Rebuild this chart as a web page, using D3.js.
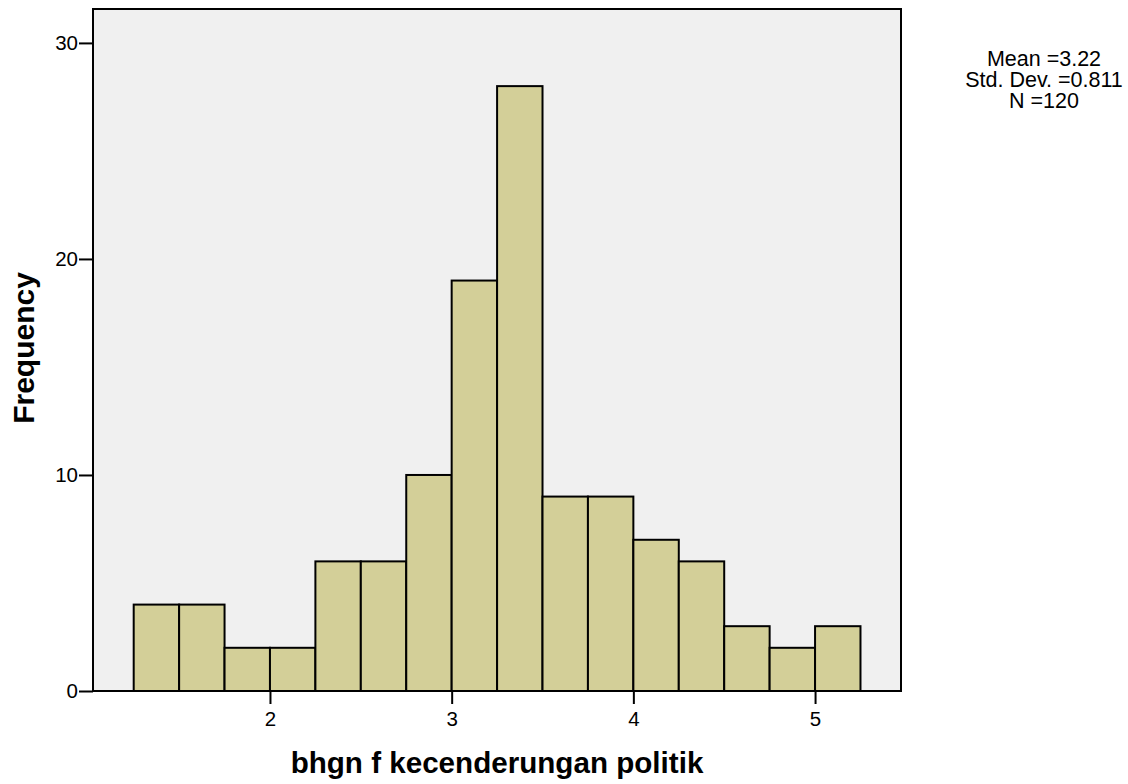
<!DOCTYPE html>
<html>
<head>
<meta charset="utf-8">
<script src="https://d3js.org/d3.v7.min.js"></script>
<style>
  body { margin: 0; background: #fff; font-family: "Liberation Sans", Arial, sans-serif; }
  .axis text { font-size: 20.5px; fill: #000; font-family: "Liberation Sans", Arial, sans-serif; }
  .axis path, .axis line { stroke: #000; stroke-width: 2px; }
</style>
</head>
<body>
<svg id="chart" width="1128" height="784"></svg>
<script>
// histogram bins (lower edge) and counts
const binStart = [1.25, 1.5, 1.75, 2.0, 2.25, 2.5, 2.75, 3.0, 3.25, 3.5, 3.75, 4.0, 4.25, 4.5, 4.75, 5.0];
const binWidth = 0.25;
const counts   = [4, 4, 2, 2, 6, 6, 10, 19, 28, 9, 9, 7, 6, 3, 2, 3];
const xTicks = [2, 3, 4, 5];
const yTicks = [0, 10, 20, 30];
const statLines = ["Mean =3.22", "Std. Dev. =0.811", "N =120"];

const plotL = 93, plotR = 901, plotT = 9, plotB = 691;
const svg = d3.select("#chart");

const x = d3.scaleLinear().domain([1.026, 5.473]).range([plotL, plotR]);
const y = d3.scaleLinear().domain([0, 31.57]).range([plotB, plotT]);

// plot background
svg.append("rect")
  .attr("x", plotL).attr("y", plotT)
  .attr("width", plotR - plotL).attr("height", plotB - plotT)
  .attr("fill", "#f0f0f0");

// bars
svg.selectAll(".bar")
  .data(counts)
  .enter()
  .append("rect")
  .attr("class", "bar")
  .attr("x", (d, i) => x(binStart[i]))
  .attr("y", d => y(d))
  .attr("width", (d, i) => x(binStart[i] + binWidth) - x(binStart[i]))
  .attr("height", d => y(0) - y(d))
  .attr("fill", "#d3cf98")
  .attr("stroke", "#000")
  .attr("stroke-width", 2);

// frame
svg.append("rect")
  .attr("x", plotL).attr("y", plotT)
  .attr("width", plotR - plotL).attr("height", plotB - plotT)
  .attr("fill", "none").attr("stroke", "#000").attr("stroke-width", 2);

// axes
svg.append("g")
  .attr("class", "axis")
  .attr("transform", `translate(0,${plotB})`)
  .call(d3.axisBottom(x).tickValues(xTicks).tickSize(13).tickPadding(7).tickFormat(d3.format("d")))
  .call(g => g.select(".domain").remove());

svg.append("g")
  .attr("class", "axis")
  .attr("transform", `translate(${plotL},0)`)
  .call(d3.axisLeft(y).tickValues(yTicks).tickSize(14).tickPadding(1).tickFormat(d3.format("d")))
  .call(g => g.select(".domain").remove());

// axis titles
svg.append("text")
  .attr("x", 497).attr("y", 773)
  .attr("text-anchor", "middle")
  .attr("font-size", 29.6).attr("font-weight", "bold")
  .text("bhgn f kecenderungan politik");

svg.append("text")
  .attr("transform", "translate(33.5,348) rotate(-90)")
  .attr("text-anchor", "middle")
  .attr("font-size", 30).attr("font-weight", "bold")
  .text("Frequency");

// stats box
svg.append("g")
  .selectAll("text")
  .data(statLines)
  .enter()
  .append("text")
  .attr("x", 1044)
  .attr("y", (d, i) => 66 + i * 21)
  .attr("text-anchor", "middle")
  .attr("font-size", 21.5)
  .text(d => d);
</script>
</body>
</html>
